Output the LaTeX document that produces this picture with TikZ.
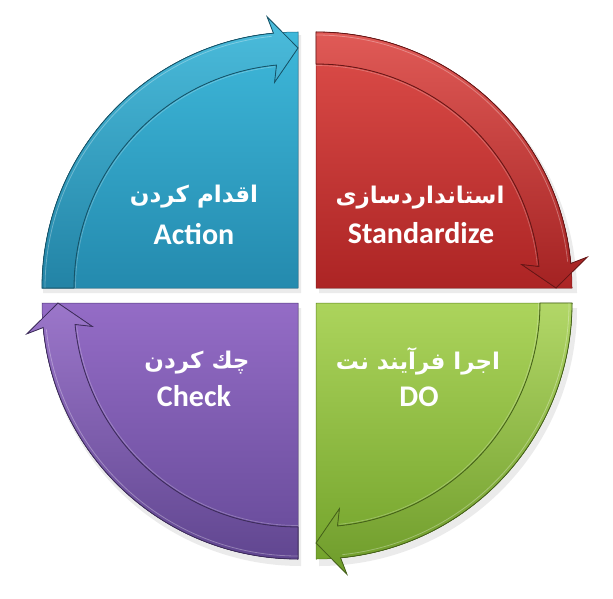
\documentclass[tikz,border=0pt]{standalone}
\usepackage{fontspec}
\setmainfont{Carlito}
\newfontfamily\fa[Script=Arabic]{DejaVu Sans}
\TeXXeTstate=1
\definecolor{blueT}{RGB}{62,184,218}
\definecolor{blueB}{RGB}{36,138,174}
\definecolor{redT}{RGB}{222,78,74}
\definecolor{redB}{RGB}{172,36,36}
\definecolor{greenT}{RGB}{172,212,92}
\definecolor{greenB}{RGB}{116,164,44}
\definecolor{purpT}{RGB}{148,108,198}
\definecolor{purpB}{RGB}{102,74,152}
\newcommand\qsector[5]{%
  \fill[black,opacity=0.08] ([shift={(#1+3,#2+5)}]0,0) -- ++(#3:258) arc[start angle=#3,end angle=#3+90,radius=258] -- cycle;
  \fill[top color=#4,bottom color=#5,draw=#5!80!black,line width=0.5pt] (#1,#2) -- ++(#3:256) arc[start angle=#3,end angle=#3+90,radius=256] -- cycle;
}
\newcommand\qband[5]{%
  \filldraw[top color=#4!93!white,bottom color=#5!95!black,draw=#5!60!black,line width=0.8pt]
    ([shift={(#1,#2)}]#3:256) arc[start angle=#3,end angle=#3+84.5,radius=256]
    -- ([shift={(#1,#2)}]#3+83.5:273)
    -- ([shift={(#1,#2)}]#3+90:240)
    -- ([shift={(#1,#2)}]#3+83.5:207)
    -- ([shift={(#1,#2)}]#3+84.5:224)
    arc[start angle=#3+84.5,end angle=#3,radius=224] -- cycle;
  \draw[white,opacity=0.3,line width=0.8pt]
    ([shift={(#1,#2)}]#3:253) arc[start angle=#3,end angle=#3+84,radius=253];
  \draw[white,opacity=0.25,line width=0.7pt]
    ([shift={(#1,#2)}]#3:222.5) arc[start angle=#3,end angle=#3+84,radius=222.5];
}
\tikzset{
  fatxt/.style={text=white,font=\fa\bfseries\fontsize{23}{27}\selectfont,inner sep=0pt},
  entxt/.style={text=white,font=\bfseries\fontsize{30}{34}\selectfont,inner sep=0pt}
}
\begin{document}
\begin{tikzpicture}[x=1pt,y=-1pt]
\useasboundingbox (0,0) rectangle (613,599);
\fill[white] (0,0) rectangle (613,599);
% sectors
\qsector{298}{288}{180}{blueT}{blueB}
\qsector{316}{288}{-90}{redT}{redB}
\qsector{316}{303}{0}{greenT}{greenB}
\qsector{298}{303}{90}{purpT}{purpB}
% arrow bands
\qband{298}{288}{180}{blueT}{blueB}
\qband{316}{288}{-90}{redT}{redB}
\qband{316}{303}{0}{greenT}{greenB}
\qband{298}{303}{90}{purpT}{purpB}
% texts
\node[fatxt] (actfa) at (194,197) {\beginR اقدام کردن\endR};
\node[entxt] (acten) at (194,234) {Action};
\node[fatxt] (stdfa) at (420,198) {\beginR استانداردسازی\endR};
\node[entxt] (stden) at (421,233) {Standardize};
\node[fatxt] (chkfa) at (197,363) {\beginR چك کردن\endR};
\node[entxt] (chken) at (194,396) {Check};
\node[fatxt] (dofa) at (418,361) {\beginR اجرا فرآیند نت\endR};
\node[entxt] (doen) at (419,397) {DO};
\end{tikzpicture}
\end{document}
